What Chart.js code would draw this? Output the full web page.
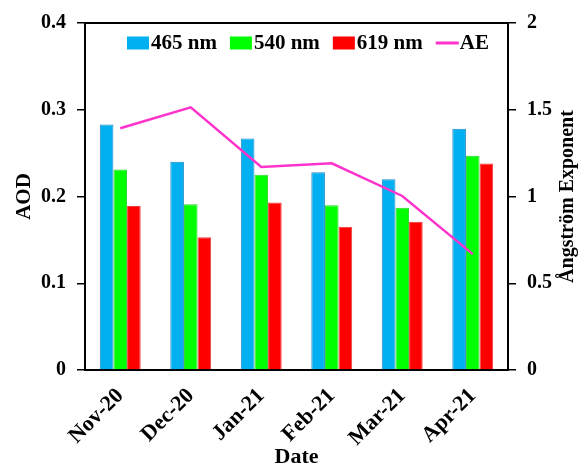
<!DOCTYPE html>
<html>
<head>
<meta charset="utf-8">
<script src="https://cdn.jsdelivr.net/npm/chart.js@4.4.1/dist/chart.umd.min.js"></script>
<style>
  body { margin: 0; background: #fff; }
</style>
</head>
<body>
<canvas id="myChart" width="584" height="466"></canvas>
<script>
var dates = ['Nov-20', 'Dec-20', 'Jan-21', 'Feb-21', 'Mar-21', 'Apr-21'];
var aod465 = [0.283, 0.240, 0.267, 0.228, 0.220, 0.278];
var aod540 = [0.231, 0.191, 0.225, 0.190, 0.187, 0.247];
var aod619 = [0.189, 0.153, 0.193, 0.165, 0.171, 0.238];
var angstrom = [1.393, 1.514, 1.170, 1.191, 1.003, 0.668];
var aodTicks = [0, 0.1, 0.2, 0.3, 0.4];
var aeTicks = [0, 0.5, 1, 1.5, 2];

var serif = "'Liberation Serif', 'Times New Roman', serif";

// legend, right-hand title and the top frame line
var extras = {
    id: 'extras',
    afterDraw: function(chart) {
        var ctx = chart.ctx;
        var a = chart.chartArea;
        ctx.save();
        ctx.strokeStyle = '#000';
        ctx.lineWidth = 2;
        ctx.beginPath();
        ctx.moveTo(a.left - 1, a.top);
        ctx.lineTo(a.right + 1, a.top);
        ctx.stroke();

        ctx.font = 'bold 21px ' + serif;
        ctx.textBaseline = 'middle';
        ctx.fillStyle = '#000';
        var x = a.left + 42;
        var y = a.top + 20;
        chart.data.datasets.forEach(function(ds) {
            if (ds.type == 'line') {
                ctx.strokeStyle = ds.borderColor;
                ctx.lineWidth = 3;
                ctx.beginPath();
                ctx.moveTo(x, y);
                ctx.lineTo(x + 23, y);
                ctx.stroke();
            } else {
                ctx.fillStyle = ds.backgroundColor;
                ctx.fillRect(x, y - 6.5, 22, 13);
            }
            x += 24;
            ctx.fillStyle = '#000';
            ctx.fillText(ds.label, x, y + 1);
            x += ctx.measureText(ds.label).width + 13;
        });

        ctx.font = 'bold 20px ' + serif;
        ctx.textAlign = 'center';
        ctx.translate(568, (a.top + a.bottom) / 2);
        ctx.rotate(-Math.PI / 2);
        ctx.fillText('Ångström Exponent', 0, 0);
        ctx.restore();
    }
};

function plainTick(value) {
    return String(Math.round(value * 10) / 10);
}

var ctx = document.getElementById('myChart');
var myChart = new Chart(ctx, {
    type: 'bar',
    data: {
        labels: dates,
        datasets: [{
            label: '465 nm',
            data: aod465,
            backgroundColor: '#00B0F0',
            borderColor: '#1C8ACB',
            borderWidth: 1,
            order: 1
        }, {
            label: '540 nm',
            data: aod540,
            backgroundColor: '#00FF00',
            borderColor: '#2BD62B',
            borderWidth: 1,
            order: 1
        }, {
            label: '619 nm',
            data: aod619,
            backgroundColor: '#FF0000',
            borderColor: '#F23A3A',
            borderWidth: 1,
            order: 1
        }, {
            type: 'line',
            label: 'AE',
            data: angstrom,
            yAxisID: 'y1',
            borderColor: '#FF33CC',
            borderWidth: 2.5,
            pointRadius: 0,
            tension: 0,
            order: 0
        }]
    },
    options: {
        responsive: false,
        animation: false,
        layout: { padding: { top: 20, left: 0, right: 0, bottom: 0 } },
        plugins: {
            legend: { display: false },
            tooltip: { enabled: false }
        },
        datasets: {
            bar: { categoryPercentage: 0.58, barPercentage: 1.0 }
        },
        scales: {
            x: {
                grid: { display: false },
                border: { display: true, color: '#000', width: 2 },
                ticks: {
                    color: '#000',
                    minRotation: 45,
                    maxRotation: 45,
                    padding: 5,
                    font: { family: serif, size: 22, weight: 'bold' }
                },
                title: {
                    display: true,
                    text: 'Date',
                    color: '#000',
                    padding: { top: 0, bottom: 0 },
                    font: { family: serif, size: 22, weight: 'bold', lineHeight: 0.8 }
                },
                afterFit: function(scale) { scale.height = 96; }
            },
            y: {
                position: 'left',
                min: 0,
                max: 0.4,
                afterBuildTicks: function(scale) {
                    scale.ticks = aodTicks.map(function(v) { return { value: v }; });
                },
                grid: { drawOnChartArea: false, drawTicks: true, tickLength: 8, color: '#000', lineWidth: 1.5 },
                border: { display: true, color: '#000', width: 2 },
                ticks: {
                    color: '#000',
                    padding: 11,
                    callback: plainTick,
                    font: { family: serif, size: 20, weight: 'bold' }
                },
                title: {
                    display: true,
                    text: 'AOD',
                    color: '#000',
                    padding: { top: 14, bottom: 0 },
                    font: { family: serif, size: 21, weight: 'bold', lineHeight: 1 }
                },
                afterFit: function(scale) { scale.width = 85; }
            },
            y1: {
                position: 'right',
                min: 0,
                max: 2,
                afterBuildTicks: function(scale) {
                    scale.ticks = aeTicks.map(function(v) { return { value: v }; });
                },
                grid: { drawOnChartArea: false, drawTicks: true, tickLength: 8, color: '#000', lineWidth: 1.5 },
                border: { display: true, color: '#000', width: 2 },
                ticks: {
                    color: '#000',
                    padding: 11,
                    callback: plainTick,
                    font: { family: serif, size: 20, weight: 'bold' }
                },
                afterFit: function(scale) { scale.width = 76; }
            }
        }
    },
    plugins: [extras]
});
</script>
</body>
</html>
